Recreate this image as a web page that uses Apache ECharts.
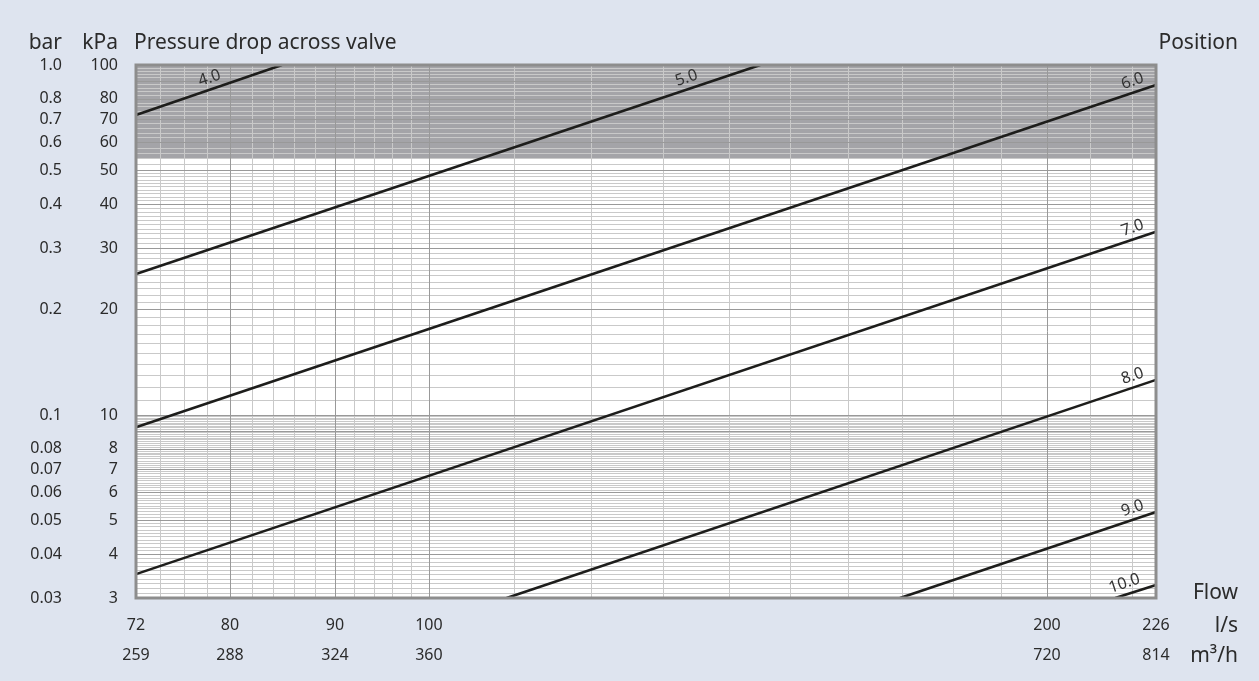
<!DOCTYPE html>
<html>
<head>
<meta charset="utf-8">
<script src="https://cdn.jsdelivr.net/npm/echarts@6/dist/echarts.min.js"></script>
<style>
  html, body { margin: 0; padding: 0; background: #dee4ef; }
  #chart { width: 1259px; height: 681px; }
</style>
</head>
<body>
<div id="chart"></div>
<script>
// tick labels
const flowTicks = [72, 80, 90, 100, 200, 226];          // l/s
const m3hTicks = ['259', '288', '324', '360', '720', '814'];
const kpaTicks = [3, 4, 5, 6, 7, 8, 10, 20, 30, 40, 50, 60, 70, 80, 100];
const barTicks = ['0.03', '0.04', '0.05', '0.06', '0.07', '0.08', '0.1', '0.2', '0.3', '0.4', '0.5', '0.6', '0.7', '0.8', '1.0'];

// valve positions, each line read as [start, end] in l/s and kPa
const positions = ['4.0', '5.0', '6.0', '7.0', '8.0', '9.0', '10.0'];
const curveFlow = [[72, 84.8], [72, 145], [72, 226], [72, 226], [109.1, 226], [169.6, 226], [215.9, 226]];
const curveKpa = [[72, 100], [25.3, 100], [9.22, 87.7], [3.51, 33.4], [3, 12.6], [3, 5.28], [3, 3.27]];
// flow where each position label sits
const labelAt = [78.5, 134, 221, 221, 221, 221, 219];

// grey band (upper pressure range)
const shadeFrom = 54;

const font = '"Noto Sans", sans-serif';
const ink = '#2b2b2b';

// grid lines of the log paper
const flowMajor = [80, 90, 100, 200];
const flowMinor = [];
for (let q = 74; q < 100; q += 2) if (q !== 80 && q !== 90) flowMinor.push(q);
for (let q = 110; q < 200; q += 10) flowMinor.push(q);
flowMinor.push(210, 220);

const kpaMajor = [4, 5, 6, 7, 8, 9, 10, 20, 30, 40, 50, 60, 70, 80, 90];
const kpaMinor = [];
for (let i = 31; i < 100; i++) if (i % 10) kpaMinor.push(i / 10);
for (let p = 11; p < 50; p++) if (p % 10) kpaMinor.push(p);
for (let p = 52; p < 100; p += 2) if (p % 10) kpaMinor.push(p);

function kpaOnCurve(i, q) {
  const [q0, q1] = curveFlow[i];
  const [p0, p1] = curveKpa[i];
  const t = (Math.log10(q) - Math.log10(q0)) / (Math.log10(q1) - Math.log10(q0));
  return Math.pow(10, Math.log10(p0) + t * (Math.log10(p1) - Math.log10(p0)));
}

function gridLines(name, xs, ys, color, width, z) {
  return {
    name: name,
    type: 'line',
    data: [],
    silent: true,
    z: z,
    markLine: {
      silent: true,
      symbol: ['none', 'none'],
      label: { show: false },
      lineStyle: { color: color, width: width, type: 'solid' },
      data: xs.map(v => ({ xAxis: v })).concat(ys.map(v => ({ yAxis: v })))
    }
  };
}

const curves = positions.map((name, i) => ({
  name: name,
  type: 'line',
  symbol: 'none',
  silent: true,
  z: 5,
  lineStyle: { color: '#1d1d1b', width: 2.6 },
  data: [[curveFlow[i][0], curveKpa[i][0]], [curveFlow[i][1], curveKpa[i][1]]],
  markPoint: {
    symbol: 'circle',
    symbolSize: 1,
    itemStyle: { color: 'rgba(0,0,0,0)' },
    label: {
      show: true,
      formatter: name,
      position: 'inside',
      rotate: 18.6,
      offset: [0, -11],
      color: '#333',
      fontSize: 16,
      fontFamily: font
    },
    data: [{ coord: [labelAt[i], kpaOnCurve(i, labelAt[i])] }]
  }
}));

const hidden = { axisLine: { show: false }, axisTick: { show: false }, splitLine: { show: false } };

const option = {
  backgroundColor: '#dee4ef',
  animation: false,
  textStyle: { fontFamily: font },
  grid: { left: 136, top: 65, width: 1020, height: 533, show: true, backgroundColor: '#ffffff', borderWidth: 0 },
  xAxis: [
    Object.assign({
      type: 'log', min: 72, max: 226, position: 'bottom',
      axisLabel: {
        customValues: flowTicks, margin: 19, fontSize: 16, color: ink,
        formatter: v => String(Math.round(v))
      }
    }, hidden),
    Object.assign({
      type: 'log', min: 72, max: 226, position: 'bottom', offset: 30,
      axisLabel: {
        customValues: flowTicks, margin: 19, fontSize: 16, color: ink,
        formatter: v => m3hTicks[flowTicks.indexOf(Math.round(v))]
      }
    }, hidden)
  ],
  yAxis: [
    Object.assign({
      type: 'log', min: 3, max: 100, position: 'left',
      axisLabel: {
        customValues: kpaTicks, margin: 18, fontSize: 16, color: ink, padding: [10, 0, 0, 0],
        formatter: v => String(Math.round(v))
      }
    }, hidden),
    Object.assign({
      type: 'log', min: 3, max: 100, position: 'left', offset: 56,
      axisLabel: {
        customValues: kpaTicks, margin: 18, fontSize: 16, color: ink, padding: [10, 0, 0, 0],
        formatter: v => barTicks[kpaTicks.indexOf(Math.round(v))]
      }
    }, hidden)
  ],
  series: [
    {
      name: 'shade', type: 'line', data: [], silent: true, z: 1,
      markArea: {
        silent: true,
        itemStyle: { color: '#a4a4a8' },
        data: [[{ yAxis: shadeFrom }, { yAxis: 100 }]]
      }
    },
    gridLines('minor', flowMinor, kpaMinor, '#c9c9c9', 1, 2),
    gridLines('major', flowMajor, kpaMajor, '#999999', 1, 3)
  ].concat(curves),
  graphic: [
    { type: 'rect', z: 100, silent: true, shape: { x: 136, y: 65, width: 1020, height: 533 },
      style: { fill: null, stroke: '#8d8d8d', lineWidth: 3 } },
    { type: 'text', x: 62, y: 43, style: { text: 'bar', fill: ink, font: '21px ' + font, align: 'right', verticalAlign: 'middle' } },
    { type: 'text', x: 118, y: 43, style: { text: 'kPa', fill: ink, font: '21px ' + font, align: 'right', verticalAlign: 'middle' } },
    { type: 'text', x: 134, y: 43, style: { text: 'Pressure drop across valve', fill: ink, font: '21px ' + font, align: 'left', verticalAlign: 'middle' } },
    { type: 'text', x: 1238, y: 43, style: { text: 'Position', fill: ink, font: '21px ' + font, align: 'right', verticalAlign: 'middle' } },
    { type: 'text', x: 1238, y: 593, style: { text: 'Flow', fill: ink, font: '21px ' + font, align: 'right', verticalAlign: 'middle' } },
    { type: 'text', x: 1238, y: 626, style: { text: 'l/s', fill: ink, font: '21px ' + font, align: 'right', verticalAlign: 'middle' } },
    { type: 'text', x: 1238, y: 656, style: { text: 'm³/h', fill: ink, font: '21px ' + font, align: 'right', verticalAlign: 'middle' } }
  ]
};

echarts.init(document.getElementById('chart')).setOption(option);
</script>
</body>
</html>
